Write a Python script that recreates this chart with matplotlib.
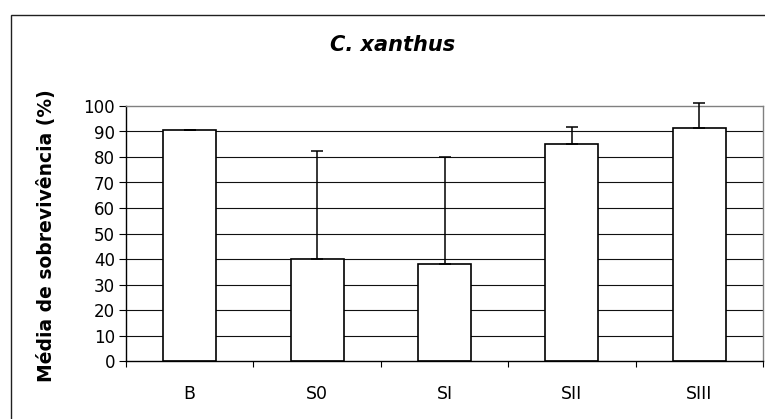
import matplotlib
matplotlib.use("Agg")
import matplotlib.pyplot as plt
from matplotlib.patches import Rectangle
import numpy as np

plt.rcParams['font.family'] = ['DejaVu Sans']

categories = ["B", "S0", "SI", "SII", "SIII"]
means = [90.7, 40.0, 38.2, 85.1, 91.2]
err_up = [0.0, 42.5, 41.8, 6.8, 10.1]
yticks = [0, 10, 20, 30, 40, 50, 60, 70, 80, 90, 100]
title = "C. xanthus"
ylabel = "Média de sobrevivência (%)"

W, H = 765, 419
fig = plt.figure(figsize=(W / 100, H / 100), dpi=100)
left, right, top, bottom = 126, 763, 106, 361
ax = fig.add_axes([left / W, 1 - bottom / H, (right - left) / W, (bottom - top) / H])

x = np.arange(len(categories))
ax.set_axisbelow(True)
for v in yticks[1:-1]:
    ax.axhline(v, color='#111111', lw=0.8, zorder=0.5)

ax.bar(x, means, width=0.415, color='white', edgecolor='black', linewidth=1.2, zorder=2)
ax.errorbar(x, means, yerr=[np.zeros(len(err_up)), err_up], fmt='none', ecolor='black',
            elinewidth=1.1, capsize=4.3, capthick=1.1, zorder=3, clip_on=False)

ax.set_xlim(-0.5, len(categories) - 0.5)
ax.set_ylim(0, 100)
ax.set_yticks(yticks)
ax.set_yticklabels([str(v) for v in yticks], fontsize=12)
ax.tick_params(axis='y', direction='out', length=5, width=0.8, pad=3, colors='black')

ax.set_xticks(x)
ax.set_xticklabels(categories, fontsize=12.5)
ax.set_xticks(np.arange(-0.5, len(categories), 1.0), minor=True)
ax.tick_params(axis='x', which='major', length=0, pad=17)
ax.tick_params(axis='x', which='minor', direction='out', length=4.5, width=0.8)

for s in ['top', 'right']:
    ax.spines[s].set_color('#808080')
    ax.spines[s].set_linewidth(1.0)
for s in ['left', 'bottom']:
    ax.spines[s].set_color('black')
    ax.spines[s].set_linewidth(1.0)

fig.text(47 / W, 1 - 236 / H, ylabel, rotation=90, ha='center', va='center',
         fontsize=13.5, fontweight='bold')
fig.text(393 / W, 1 - 45 / H, title, ha='center', va='center', fontsize=15,
         fontweight='bold', fontstyle='italic')

fig.patches.append(Rectangle((11 / W, -0.1), 1.2, 1 - 15 / H + 0.1, transform=fig.transFigure,
                             fill=False, edgecolor='#202020', linewidth=1.0))

fig.savefig("out.png", dpi=100)
